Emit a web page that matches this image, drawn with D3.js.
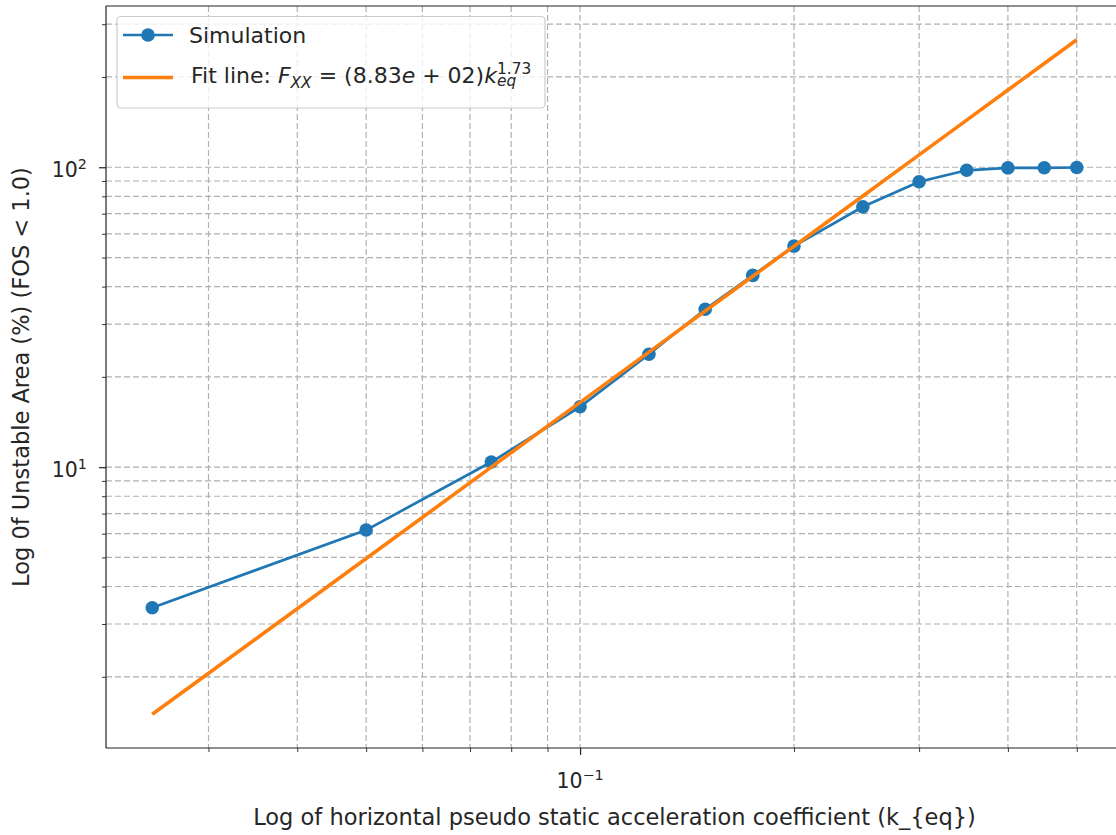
<!DOCTYPE html>
<html>
<head>
<meta charset="utf-8">
<script src="https://cdn.jsdelivr.net/npm/d3@7"></script>
<style>
  html, body { margin: 0; padding: 0; background: #fff; }
  svg { display: block; font-family: "DejaVu Sans", sans-serif; }
</style>
</head>
<body>
<svg id="chart" width="1116" height="835"></svg>
<script>
// ---- data ----
const kValues   = [0.025, 0.05, 0.075, 0.1, 0.125, 0.15, 0.175, 0.2, 0.25, 0.3, 0.35, 0.4, 0.45, 0.5];
const simValues = [3.40, 6.17, 10.4, 15.9, 23.8, 33.6, 43.6, 54.6, 73.8, 89.5, 97.7, 99.5, 99.6, 99.8];
const fitValues = [1.50, 4.96, 10.0, 16.44, 24.19, 33.16, 43.29, 54.55, 80.24, 109.98, 143.6, 180.9, 221.8, 266.2];
const xMajorTicks = [0.1];
const xMajorLabels = [["10", "\u22121"]];
const xMinorTicks = [0.03, 0.04, 0.05, 0.06, 0.07, 0.08, 0.09, 0.2, 0.3, 0.4, 0.5];
const yMajorTicks = [10, 100];
const yMajorLabels = [["10", "1"], ["10", "2"]];
const yMinorTicks = [2, 3, 4, 5, 6, 7, 8, 9, 20, 30, 40, 50, 60, 70, 80, 90, 200, 300];
const seriesNames = ["Simulation", "Fit line"];
const xLabel = "Log of horizontal pseudo static acceleration coefficient (k_{eq})";
const yLabel = "Log 0f Unstable Area (%) (FOS < 1.0)";

(function () {
// ---- layout ----
const FS_TICK = 20.5, FS_LAB = 22.5, FS_LEG = 22;
const pL = 106, pT = 6, pB = 748, pR = 1123;
const svg = d3.select("#chart");
svg.append("rect").attr("width", 1116).attr("height", 835).attr("fill", "#fff");

function padLog(lo, hi, frac) {
  const a = Math.log10(lo), b = Math.log10(hi), m = (b - a) * frac;
  return [Math.pow(10, a - m), Math.pow(10, b + m)];
}
const xDom = padLog(d3.min(kValues), d3.max(kValues), 0.05);
const allY = simValues.concat(fitValues);
const yDom = padLog(d3.min(allY), d3.max(allY), 0.05);

const x = d3.scaleLog().domain(xDom).range([pL, pR]);
const y = d3.scaleLog().domain(yDom).range([pB, pT]);

// ---- grid (major + minor, dashed) ----
const grid = svg.append("g").attr("stroke", "#b0b0b0").attr("stroke-width", 1.2)
  .attr("stroke-dasharray", "6,3");
xMajorTicks.concat(xMinorTicks).forEach(v => {
  grid.append("line").attr("x1", x(v)).attr("x2", x(v)).attr("y1", pT).attr("y2", pB);
});
yMajorTicks.concat(yMinorTicks).forEach(v => {
  grid.append("line").attr("y1", y(v)).attr("y2", y(v)).attr("x1", pL).attr("x2", pR);
});

// ---- axes via d3 ----
const xAxisMajor = d3.axisBottom(x).tickValues(xMajorTicks).tickSize(7).tickFormat("");
const xAxisMinor = d3.axisBottom(x).tickValues(xMinorTicks).tickSize(4).tickFormat("");
const yAxisMajor = d3.axisLeft(y).tickValues(yMajorTicks).tickSize(7).tickFormat("");
const yAxisMinor = d3.axisLeft(y).tickValues(yMinorTicks).tickSize(4).tickFormat("");

function styleAxis(g, w) {
  g.select(".domain").remove();
  g.selectAll(".tick line").attr("stroke", "#222").attr("stroke-width", w);
}
svg.append("g").attr("transform", `translate(0,${pB})`).call(xAxisMajor).call(g => styleAxis(g, 1.2));
svg.append("g").attr("transform", `translate(0,${pB})`).call(xAxisMinor).call(g => styleAxis(g, 0.9));
svg.append("g").attr("transform", `translate(${pL},0)`).call(yAxisMajor).call(g => styleAxis(g, 1.2));
svg.append("g").attr("transform", `translate(${pL},0)`).call(yAxisMinor).call(g => styleAxis(g, 0.9));

// tick labels (mathtext-like 10^n)
function powLabel(parent, px, py, parts, anchor) {
  const t = parent.append("text").attr("x", px).attr("y", py).attr("font-size", FS_TICK)
    .attr("fill", "#262626").attr("text-anchor", anchor);
  t.append("tspan").text(parts[0]);
  t.append("tspan").attr("font-size", FS_TICK * 0.7).attr("dy", -8.5).text(parts[1]);
  return t;
}
xMajorTicks.forEach((v, i) => powLabel(svg, x(v), 788, xMajorLabels[i], "middle"));
yMajorTicks.forEach((v, i) => powLabel(svg, 87, y(v) + 10, yMajorLabels[i], "end"));

// spines (left, top, bottom; right is outside the picture)
const sp = svg.append("g").attr("stroke", "#222").attr("stroke-width", 1.2).attr("fill", "none");
sp.append("line").attr("x1", pL).attr("x2", pL).attr("y1", pT).attr("y2", pB);
sp.append("line").attr("x1", pL).attr("x2", pR).attr("y1", pT).attr("y2", pT);
sp.append("line").attr("x1", pL).attr("x2", pR).attr("y1", pB).attr("y2", pB);

// ---- data marks ----
svg.append("clipPath").attr("id", "clip").append("rect")
  .attr("x", pL).attr("y", pT).attr("width", pR - pL).attr("height", pB - pT);
const plot = svg.append("g").attr("clip-path", "url(#clip)");
const line = d3.line().x(d => x(d[0])).y(d => y(d[1]));
const simData = kValues.map((k, i) => [k, simValues[i]]);
const fitData = kValues.map((k, i) => [k, fitValues[i]]);

plot.append("path").datum(simData).attr("d", line).attr("fill", "none")
  .attr("stroke", "#1f77b4").attr("stroke-width", 2.7);
plot.selectAll("circle.sim").data(simData).enter().append("circle").attr("class", "sim")
  .attr("cx", d => x(d[0])).attr("cy", d => y(d[1])).attr("r", 6.8).attr("fill", "#1f77b4");
plot.append("path").datum(fitData).attr("d", line).attr("fill", "none")
  .attr("stroke", "#ff7f0e").attr("stroke-width", 3.6);

// ---- axis labels ----
svg.append("text").attr("x", (pL + pR) / 2).attr("y", 825).attr("text-anchor", "middle")
  .attr("font-size", FS_LAB).attr("fill", "#262626").text(xLabel);
svg.append("text").attr("transform", `translate(28.5,${(pT + pB) / 2}) rotate(-90)`)
  .attr("text-anchor", "middle").attr("font-size", FS_LAB).attr("fill", "#262626").text(yLabel);

// ---- legend ----
const lg = svg.append("g");
lg.append("rect").attr("x", 117).attr("y", 16.5).attr("width", 428).attr("height", 91.5)
  .attr("rx", 4).attr("fill", "#fff").attr("fill-opacity", 0.8)
  .attr("stroke", "#cccccc").attr("stroke-width", 1.2);
// row 1
lg.append("line").attr("x1", 123).attr("x2", 173).attr("y1", 35).attr("y2", 35)
  .attr("stroke", "#1f77b4").attr("stroke-width", 2.7);
lg.append("circle").attr("cx", 148).attr("cy", 35).attr("r", 6.8).attr("fill", "#1f77b4");
lg.append("text").attr("x", 189).attr("y", 43).attr("font-size", FS_LEG).attr("fill", "#262626")
  .text(seriesNames[0]);
// row 2
lg.append("line").attr("x1", 123).attr("x2", 173).attr("y1", 77.5).attr("y2", 77.5)
  .attr("stroke", "#ff7f0e").attr("stroke-width", 3.6);
const t2 = lg.append("text").attr("x", 191).attr("y", 83).attr("font-size", FS_LEG).attr("fill", "#262626");
t2.append("tspan").text(seriesNames[1] + ": ");
t2.append("tspan").attr("font-style", "italic").text("F");
t2.append("tspan").attr("font-style", "italic").attr("font-size", FS_LEG * 0.7).attr("dy", 5).text("XX");
t2.append("tspan").attr("dy", -5).text(" = (8.83");
t2.append("tspan").attr("font-style", "italic").text("e");
t2.append("tspan").text(" + 02)");
t2.append("tspan").attr("font-style", "italic").text("k");
const sub = t2.append("tspan").attr("font-style", "italic").attr("font-size", FS_LEG * 0.7)
  .attr("dy", 3).text("eq");
const subW = sub.node().getComputedTextLength();
t2.append("tspan").attr("font-size", FS_LEG * 0.7).attr("dx", -subW).attr("dy", -12).text("1.73");
})();
</script>
</body>
</html>
